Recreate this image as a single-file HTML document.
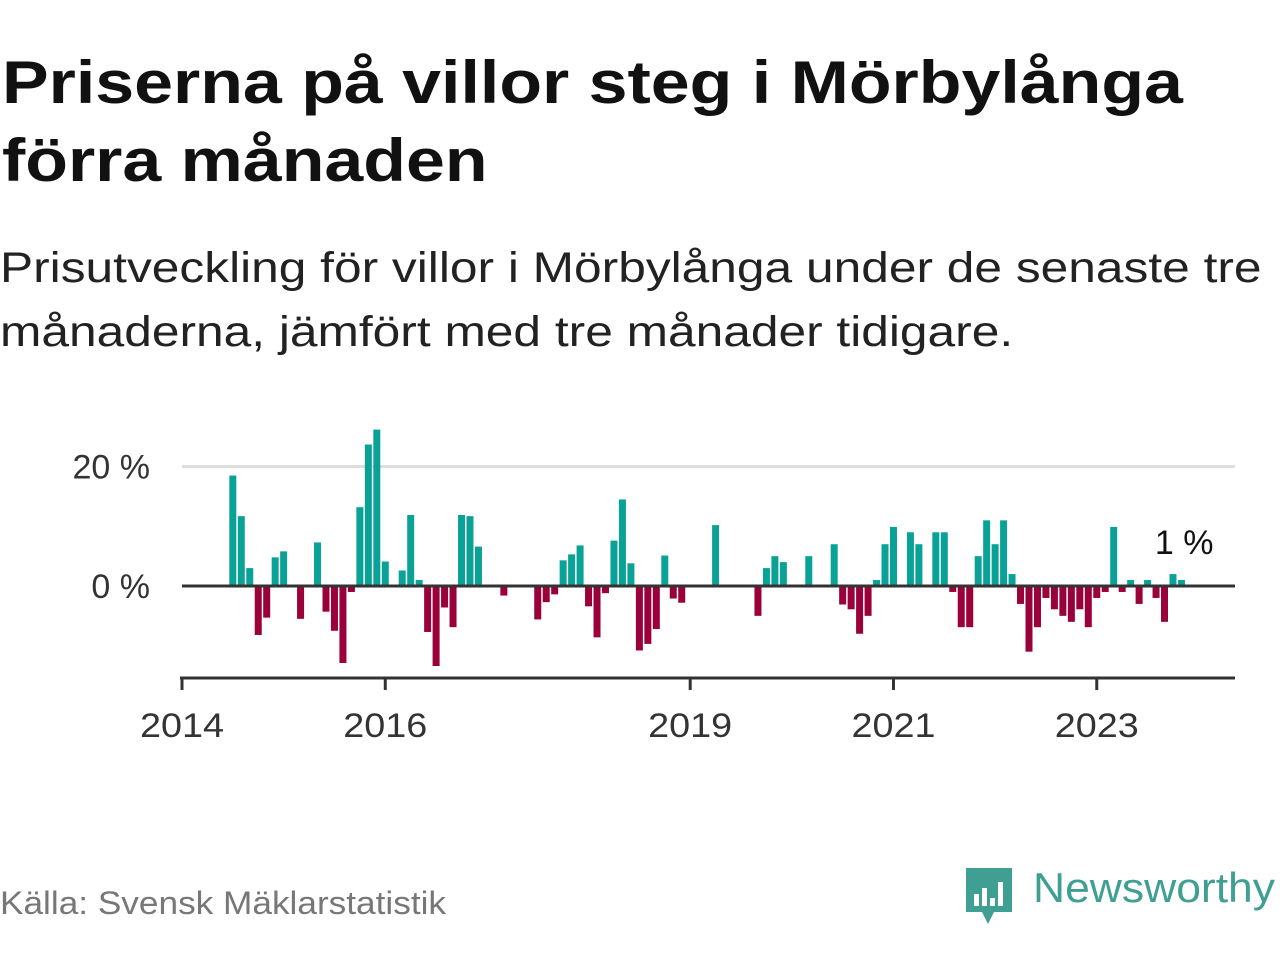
<!DOCTYPE html>
<html><head><meta charset="utf-8">
<style>
html,body{margin:0;padding:0;background:#fff;width:1280px;height:960px;overflow:hidden;font-family:"Liberation Sans",sans-serif;}
#title{position:absolute;left:2px;top:44px;font-size:60px;font-weight:bold;line-height:78px;color:#111;margin:0;transform:scaleX(1.165);transform-origin:0 0;white-space:nowrap}
#sub{position:absolute;left:0;top:236px;font-size:43px;line-height:64px;color:#222;margin:0;transform:scaleX(1.155);transform-origin:0 0;white-space:nowrap}
#src{position:absolute;left:0;top:885px;font-size:32px;color:#777;transform:scaleX(1.1);transform-origin:0 0;white-space:nowrap}
#chart{position:absolute;left:0;top:0}
</style></head><body>
<h1 id="title">Priserna på villor steg i Mörbylånga<br>förra månaden</h1>
<p id="sub">Prisutveckling för villor i Mörbylånga under de senaste tre<br>månaderna, jämfört med tre månader tidigare.</p>
<div id="src">Källa: Svensk Mäklarstatistik</div>
<svg id="chart" width="1280" height="960"></svg>
<svg style="position:absolute;left:964px;top:864px" width="316" height="64">
<path d="M2 4 h46 v44 h-18 l-6 12 l-6 -12 h-16 z" fill="#3f9f93"/>
<rect x="10" y="30" width="5" height="12" fill="#fff"/><rect x="18" y="24" width="5" height="18" fill="#fff"/><rect x="26" y="34" width="5" height="8" fill="#fff"/><rect x="34" y="18" width="5" height="24" fill="#fff"/>
<text x="69" y="38" font-family="Liberation Sans, sans-serif" font-size="42" fill="#3f9f93" textLength="242" lengthAdjust="spacingAndGlyphs">Newsworthy</text>
</svg>
<script>
const values = [null,null,null,null,null,null,18.5,11.7,3.0,-8.2,-5.3,4.8,5.8,0,-5.5,0,7.3,-4.3,-7.5,-12.9,-1.0,13.2,23.7,26.2,4.1,0,2.6,11.9,1.0,-7.7,-13.4,-3.6,-6.9,11.9,11.7,6.6,0,0,-1.6,0,0,0,-5.6,-2.7,-1.4,4.3,5.3,6.8,-3.4,-8.6,-1.2,7.6,14.5,3.8,-10.8,-9.7,-7.2,5.1,-2.1,-2.8,0,0,0,10.2,0,0,0,0,-5.0,3.0,5.0,4.0,0,0,5.0,0,0,7.0,-3.1,-3.9,-8.0,-5.0,1.0,7.0,9.9,0,9.0,7.0,0,9.0,9.0,-1.0,-6.9,-6.9,5.0,11.0,7.0,11.0,2.0,-3.0,-11.0,-6.9,-2.0,-3.9,-5.0,-6.0,-3.9,-6.9,-2.0,-1.0,9.9,-1.0,1.0,-3.0,1.0,-2.0,-6.0,2.0,1.0];
const yTicks = [0,20];
const yTickLabels = ["0 %","20 %"];
const xTickIdx = [0,24,60,84,108];
const xTickLabels = ["2014","2016","2019","2021","2023"];
const lastLabel = "1 %";
const svg = document.getElementById('chart');
const NS='http://www.w3.org/2000/svg';
const X0=182, DX=8.47, XEND=1235, Y0=586, PY=5.97;
const x = i => X0 + i*DX;
const y = v => Y0 - v*PY;
function mk(t,a){const e=document.createElementNS(NS,t);for(const k in a)e.setAttribute(k,a[k]);svg.appendChild(e);return e;}
yTicks.forEach((v,k)=>{
  if(v!==0){const g=mk('line',{x1:182,x2:XEND,y1:y(v),y2:y(v),stroke:'#ddd','stroke-width':3});
  
  }
  const t=mk('text',{x:150,y:y(v)+12,'text-anchor':'end','font-size':34,fill:'#333','font-family':'Liberation Sans, sans-serif'});
  t.textContent=yTickLabels[k];
  
  
});
values.forEach((v,i)=>{
  if(v===null||v===0)return;
  const r=mk('rect',{x:x(i)-3.5,width:7,y:v>0?y(v):Y0,height:Math.abs(v)*PY,fill:v>0?'#0aa297':'#9a0039'});
  
  
});
const z=mk('line',{x1:182,x2:XEND,y1:Y0,y2:Y0,stroke:'#333','stroke-width':3});


const ax=mk('line',{x1:180,x2:XEND,y1:678,y2:678,stroke:'#333','stroke-width':3});


xTickIdx.forEach((i,k)=>{
  const tk=mk('line',{x1:x(i),x2:x(i),y1:678,y2:690,stroke:'#333','stroke-width':3});
  
  
  const t=mk('text',{x:x(i),y:737,'text-anchor':'middle','font-size':34,fill:'#333','font-family':'Liberation Sans, sans-serif','textLength':84,'lengthAdjust':'spacingAndGlyphs'});
  t.textContent=xTickLabels[k];
  
  
});
const li=values.length-1;
const lt=mk('text',{x:x(li)+32,y:y(values[li])-26,'text-anchor':'end','font-size':34,fill:'#111','font-family':'Liberation Sans, sans-serif'});
lt.textContent=lastLabel;


</script>
</body></html>
